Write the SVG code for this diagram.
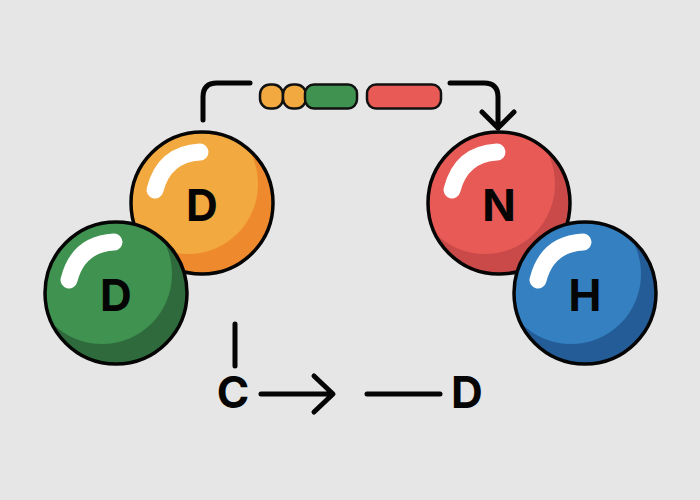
<svg xmlns="http://www.w3.org/2000/svg" width="700" height="500" viewBox="0 0 700 500">
<style>
.ball{stroke:#050505;stroke-width:3.500;fill:none}
.hl{fill:none;stroke:#fff;stroke-width:17;stroke-linecap:round}
.lab{font-family:"Inter","Liberation Sans",Arial,sans-serif;font-weight:700;font-size:44px;text-anchor:middle;fill:#050505}
.con{fill:none;stroke:#050505;stroke-width:5;stroke-linecap:round;stroke-linejoin:round}
.pill{stroke:#111;stroke-width:2.500}
</style>
<defs>
<clipPath id="c"><circle r="71"/></clipPath>
<path id="hlp" class="hl" d="M-47-13Q-38-49-2-51"/>
</defs>
<rect width="700" height="500" fill="#e6e6e7"/>
<g id="connectors">
<path class="con" d="M203 120V97Q203 83 217 83H250"/>
<path class="con" d="M450 83H484Q498 83 498 97V128M482 112L498 128L514 112"/>
<path class="con" d="M235 324V366"/>
<path class="con" d="M261 394H332M314 376L333 394L314 412"/>
<path class="con" d="M367 394H440"/>
</g>
<g id="sequence">
<rect class="pill" x="260" y="84.500" width="23" height="24" rx="10" fill="#f2a93f"/>
<rect class="pill" x="283" y="84.500" width="23" height="24" rx="10" fill="#f2a93f"/>
<rect class="pill" x="305" y="84.500" width="52" height="24" rx="9" fill="#3f9250"/>
<rect class="pill" x="367" y="84.500" width="74" height="24" rx="9" fill="#e85a55"/>
</g>
<g id="node-orange" transform="translate(202 203)">
<circle r="71" fill="#ee8a2d"/>
<circle cx="-14" cy="-19" r="70" fill="#f2a93f" clip-path="url(#c)"/>
<circle r="71" class="ball"/><use href="#hlp"/>
<text class="lab" y="18">D</text>
</g>
<g id="node-green" transform="translate(116 293)">
<circle r="71" fill="#2f6a3d"/>
<circle cx="-14" cy="-19" r="70" fill="#3f9250" clip-path="url(#c)"/>
<circle r="71" class="ball"/><use href="#hlp"/>
<text class="lab" y="18">D</text>
</g>
<g id="node-red" transform="translate(499 203)">
<circle r="71" fill="#c94a48"/>
<circle cx="-14" cy="-19" r="70" fill="#e85a55" clip-path="url(#c)"/>
<circle r="71" class="ball"/><use href="#hlp"/>
<text class="lab" y="18">N</text>
</g>
<g id="node-blue" transform="translate(585 293)">
<circle r="71" fill="#245c98"/>
<circle cx="-14" cy="-19" r="70" fill="#3580c0" clip-path="url(#c)"/>
<circle r="71" class="ball"/><use href="#hlp"/>
<text class="lab" y="18">H</text>
</g>
<g id="node-c"><text class="lab" x="233" y="408">C</text></g>
<g id="node-d"><text class="lab" x="467" y="408">D</text></g>
</svg>
